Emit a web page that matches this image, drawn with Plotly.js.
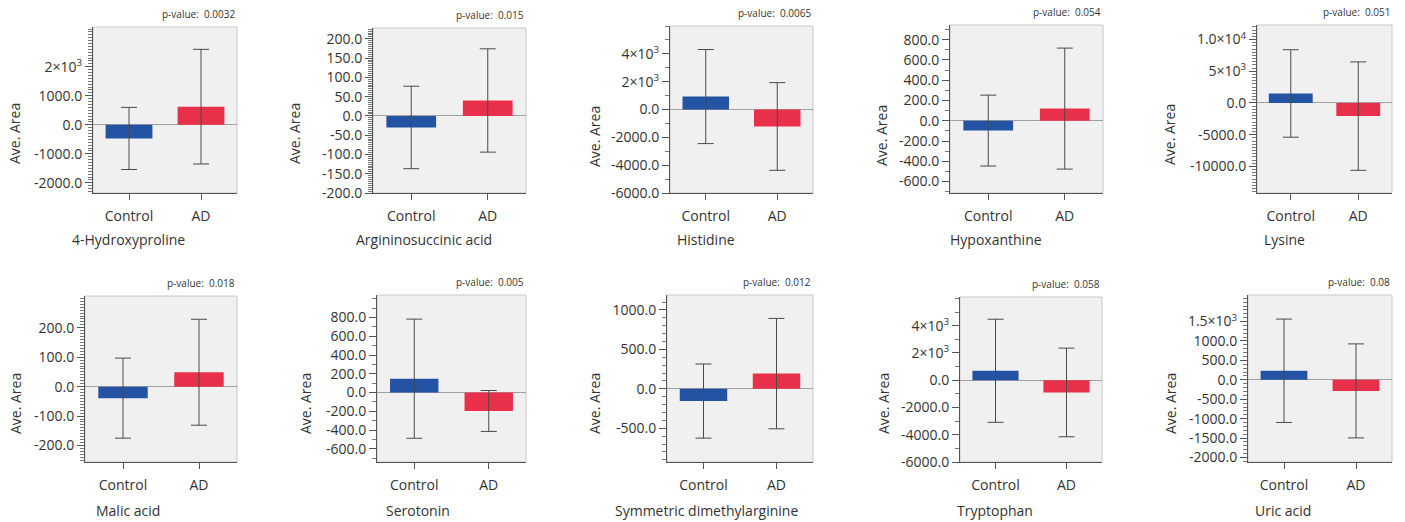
<!DOCTYPE html>
<html>
<head>
<meta charset="utf-8">
<script src="https://cdn.plot.ly/plotly-3.0.1.min.js"></script>
<style>html,body{margin:0;padding:0;background:#fff;}#chart{width:1405px;height:522px;}</style>
</head>
<body>
<div id="chart"></div>
<script>
// ---- data ----
const groups = ["Control", "AD"];
const metabolites = ["4-Hydroxyproline", "Argininosuccinic acid", "Histidine", "Hypoxanthine", "Lysine",
  "Malic acid", "Serotonin", "Symmetric dimethylarginine", "Tryptophan", "Uric acid"];
const yTitle = "Ave. Area";
const pValues = ["0.0032", "0.015", "0.0065", "0.054", "0.051", "0.018", "0.005", "0.012", "0.058", "0.08"];
const controlMean = [-470, -30, 930, -97, 1500, -39, 148, -155, 690, 233];
const controlErr = [1070, 107, 3380, 350, 6900, 136, 635, 470, 3780, 1330];
const adMean = [625, 40, -1220, 120, -2070, 49, -196, 193, -900, -285];
const adErr = [1975, 134, 3150, 597, 8550, 180, 218, 700, 3250, 1210];

const tickVals = [
  [-2000, -1000, 0, 1000, 2000],
  [-200, -150, -100, -50, 0, 50, 100, 150, 200],
  [-6000, -4000, -2000, 0, 2000, 4000],
  [-600, -400, -200, 0, 200, 400, 600, 800],
  [-10000, -5000, 0, 5000, 10000],
  [-200, -100, 0, 100, 200],
  [-600, -400, -200, 0, 200, 400, 600, 800],
  [-500, 0, 500, 1000],
  [-6000, -4000, -2000, 0, 2000, 4000],
  [-2000, -1500, -1000, -500, 0, 500, 1000, 1500]
];
const tickText = [
  ["-2000.0", "-1000.0", "0.0", "1000.0", "2×10<sup>3</sup>"],
  ["-200.0", "-150.0", "-100.0", "-50.0", "0.0", "50.0", "100.0", "150.0", "200.0"],
  ["-6000.0", "-4000.0", "-2000.0", "0.0", "2×10<sup>3</sup>", "4×10<sup>3</sup>"],
  ["-600.0", "-400.0", "-200.0", "0.0", "200.0", "400.0", "600.0", "800.0"],
  ["-10000.0", "-5000.0", "0.0", "5×10<sup>3</sup>", "1.0×10<sup>4</sup>"],
  ["-200.0", "-100.0", "0.0", "100.0", "200.0"],
  ["-600.0", "-400.0", "-200.0", "0.0", "200.0", "400.0", "600.0", "800.0"],
  ["-500.0", "0.0", "500.0", "1000.0"],
  ["-6000.0", "-4000.0", "-2000.0", "0.0", "2×10<sup>3</sup>", "4×10<sup>3</sup>"],
  ["-2000.0", "-1500.0", "-1000.0", "-500.0", "0.0", "500.0", "1000.0", "1.5×10<sup>3</sup>"]
];

// ---- axis / layout settings ----
const yRanges = [[-2350, 3370], [-200, 228], [-6000, 6000], [-713, 945], [-14200, 12300],
  [-256, 308], [-740, 1040], [-928, 1190], [-6000, 6100], [-2115, 2183]];
const minorStep = [100, 5, 1000, 100, 500, 10, 100, 100, 1000, 100];

// plot-area boxes in pixels [left, right, top, bottom]
const boxes = [
  [93, 237, 27, 193], [373, 526, 28, 193], [670, 813, 26, 193], [950, 1103, 25, 193], [1257, 1392, 25, 193],
  [85, 237, 296, 462], [377, 526, 295, 462], [667, 813, 295, 462], [960, 1102, 297, 462], [1248, 1392, 295, 462]
];
// title centres in pixels: x-title [x, y], y-title [x, y]
const xTitlePos = [[128, 239], [424, 239], [706, 239], [996, 239], [1284, 239],
  [128, 510], [418, 510], [706, 510], [995, 510], [1283, 510]];
const yTitlePos = [[15, 134], [295, 134], [594, 137], [882, 135], [1170, 135],
  [15, 404], [305, 404], [594, 404], [883, 404], [1170, 404]];

const W = 1405, H = 522;
const FONT = "Open Sans, Noto Sans, sans-serif";
const txt = "#333333";
const traces = [];
const layout = {
  width: W, height: H,
  margin: {l: 0, r: 0, t: 0, b: 0},
  paper_bgcolor: "#ffffff",
  plot_bgcolor: "#f0f0f0",
  showlegend: false,
  bargap: 0.35,
  font: {family: FONT, size: 14, color: txt},
  annotations: [],
  shapes: []
};

metabolites.forEach((name, i) => {
  const s = i === 0 ? "" : String(i + 1);
  const b = boxes[i];
  traces.push({
    type: "bar",
    x: groups,
    y: [controlMean[i], adMean[i]],
    xaxis: "x" + s, yaxis: "y" + s,
    marker: {color: ["#2553a3", "#e8304a"], line: {width: 0}},
    error_y: {type: "data", array: [controlErr[i], adErr[i]], visible: true,
      color: "#4a4a4a", thickness: 1, width: 8},
    hoverinfo: "skip"
  });
  layout["xaxis" + s] = {
    domain: [b[0] / W, b[1] / W],
    anchor: "y" + s,
    type: "category",
    range: [-0.5, 1.5],
    showline: true, linecolor: "#555555", linewidth: 1,
    ticks: "outside", ticklen: 6, tickcolor: "#555555",
    ticklabelstandoff: 4,
    showgrid: false, zeroline: false, fixedrange: true,
    tickfont: {family: FONT, size: 14, color: txt}
  };
  layout["yaxis" + s] = {
    domain: [1 - b[3] / H, 1 - b[2] / H],
    anchor: "x" + s,
    range: yRanges[i],
    tickmode: "array", tickvals: tickVals[i], ticktext: tickText[i],
    showline: true, linecolor: "#555555", linewidth: 1,
    ticks: "outside", ticklen: 7, tickcolor: "#555555",
    minor: {tickmode: "linear", tick0: 0, dtick: minorStep[i], ticks: "outside", ticklen: 4, tickcolor: "#777777", showgrid: false},
    showgrid: false,
    zeroline: true, zerolinecolor: "#a0a0a0", zerolinewidth: 1,
    fixedrange: true,
    tickfont: {family: FONT, size: 14, color: txt}
  };
  layout.shapes.push({
    type: "rect", xref: "x" + s + " domain", yref: "y" + s + " domain",
    x0: 0, x1: 1, y0: 0, y1: 1, line: {color: "#c8c8c8", width: 1}, fillcolor: "rgba(0,0,0,0)", layer: "below"
  });
  layout.annotations.push({
    xref: "x" + s + " domain", yref: "y" + s + " domain",
    x: 1, y: 1, xanchor: "right", yanchor: "bottom", yshift: 4,
    showarrow: false,
    text: "p-value:\u00a0\u00a0" + pValues[i],
    font: {family: FONT, size: 10, color: txt}
  });
  // axis titles
  layout.annotations.push({
    xref: "paper", yref: "paper",
    x: xTitlePos[i][0] / W, y: 1 - xTitlePos[i][1] / H,
    xanchor: "center", yanchor: "middle", showarrow: false,
    text: name, font: {family: FONT, size: 14, color: txt}
  });
  layout.annotations.push({
    xref: "paper", yref: "paper",
    x: yTitlePos[i][0] / W, y: 1 - yTitlePos[i][1] / H,
    xanchor: "center", yanchor: "middle", showarrow: false, textangle: -90,
    text: yTitle, font: {family: FONT, size: 14, color: txt}
  });
});

Plotly.newPlot("chart", traces, layout, {displayModeBar: false, staticPlot: true});
</script>
</body>
</html>
